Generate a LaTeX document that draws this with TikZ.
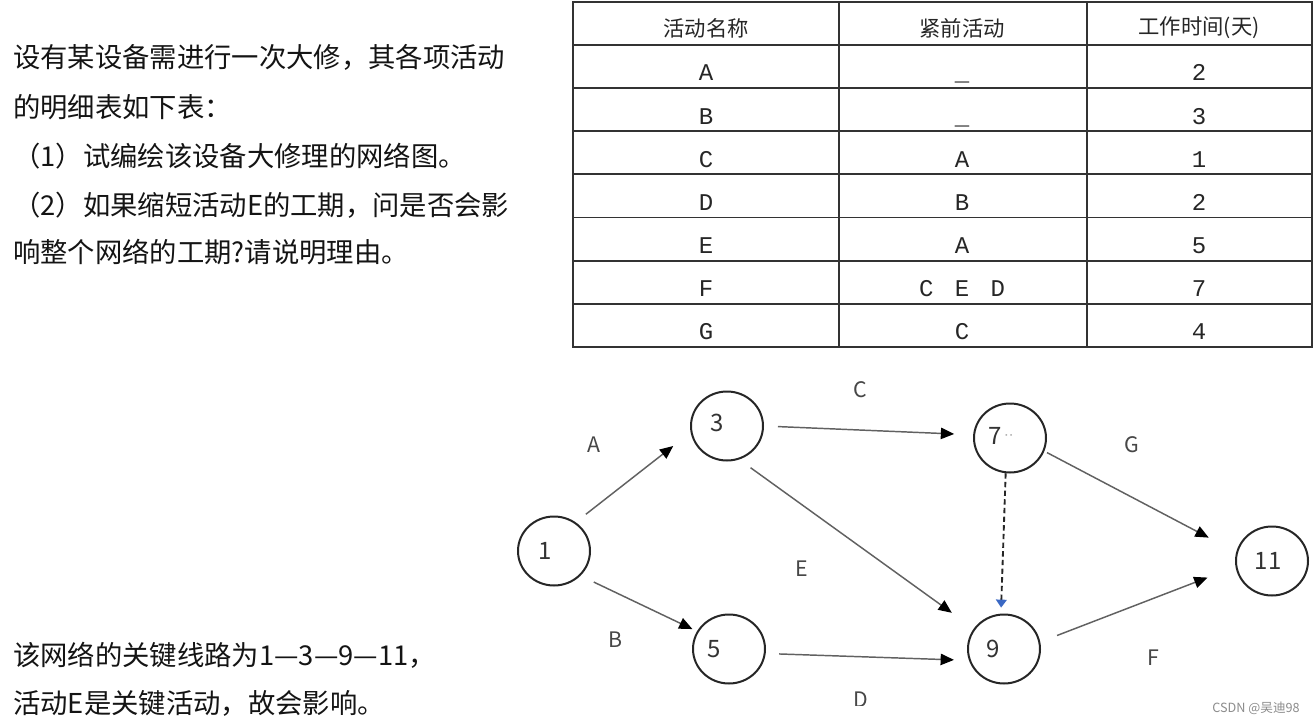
\documentclass[tikz,border=0pt]{standalone}
\usepackage{fontspec}
\setmainfont{Noto Sans CJK SC}
\newfontfamily\tablemono{Liberation Mono}
\newfontfamily\dotfont{DejaVu Sans}
\usetikzlibrary{arrows.meta,shapes.geometric}
\newdimen\pxu \pxu=0.75pt
\tikzset{
  body/.style={anchor=west, inner sep=0pt, text=black!92, font=\fontsize{20.5}{24}\selectfont},
  circnode/.style={ellipse, draw=black!85, line width=1.5pt, minimum width=54pt, minimum height=51.75pt, inner sep=0pt, text=black!80, font=\fontsize{18}{20}\selectfont},
  edge/.style={draw=black!62, line width=1.1pt, -{Triangle[length=10pt,width=8.5pt,color=black]}},
  dashedge/.style={draw=black!85, line width=1.4pt, dash pattern=on 4pt off 2.5pt, -{Triangle[length=6pt,width=8pt,color={rgb,255:red,58;green,104;blue,196}]}},
  elabel/.style={text=black!72, inner sep=0pt, font=\fontsize{16}{18}\selectfont},
  tableline/.style={draw=black!80, line width=1.1pt},
  thead/.style={inner sep=0pt, text=black!85, font=\fontsize{16}{18}\selectfont},
  tcell/.style={anchor=base, inner sep=0pt, text=black!85, font=\tablemono\fontsize{18}{20}\selectfont},
}
\begin{document}
\begin{tikzpicture}[x=0.75pt,y=-0.75pt]
\useasboundingbox[fill=white] (0,0) rectangle (1314,724);

% question text
\node[body] (q1) at (13,57) {设有某设备需进行一次大修，其各项活动};
\node[body] (q2) at (13,107) {的明细表如下表：};
\node[body] (q3) at (13,156) {（1）试编绘该设备大修理的网络图。};
\node[body] (q4) at (13,205) {（2）如果缩短活动E的工期，问是否会影};
\node[body] (q5) at (13,252) {响整个网络的工期?请说明理由。};

% table
\draw[tableline] (573,2) rectangle (1312,347);
\foreach \y in {45,88,131,174,217.5,261,304} \draw[tableline] (573,\y) -- (1312,\y);
\draw[tableline] (839,2) -- (839,347);
\draw[tableline] (1087,2) -- (1087,347);
\node[thead] (h1) at (706,28) {活动名称};
\node[thead] (h2) at (962,28) {紧前活动};
\node[thead] (h3) at (1199,28) {工作时间(天)};
\foreach \a/\b/\c [count=\i] in {A/\_/2, B/\_/3, C/A/1, D/B/2, E/A/5, F/{C\hspace{16pt}E\hspace{16pt}D}/7, G/C/4} {
  \node[tcell] (r\i a) at (706,{81+43.1*(\i-1)}) {\a};
  \node[tcell] (r\i b) at (962,{81+43.1*(\i-1)}) {\b};
  \node[tcell] (r\i c) at (1199,{81+43.1*(\i-1)}) {\c};
}

% network
\node[circnode] (n1) at (554,551) {1\hspace*{18\pxu}};
\node[circnode] (n3) at (727,426) {\raisebox{4.5pt}{3}\hspace*{20\pxu}};
\node[circnode] (n5) at (729,649) {5\hspace*{30\pxu}};
\node[circnode] (n7) at (1010,438) {\raisebox{3.5pt}{7\rlap{\raisebox{3pt}{\dotfont\fontsize{11}{11}\selectfont\color{black!30}\,··}}}\hspace*{30\pxu}};
\node[circnode] (n9) at (1004,649) {9\hspace*{22\pxu}};
\node[circnode] (n11) at (1272,561) {11\hspace*{8\pxu}};

\draw[edge, shorten <=13\pxu, shorten >=22\pxu] (n1.53) -- (n3.190);
\draw[edge, shorten <=14.7\pxu, shorten >=5\pxu] (n1.317.4) -- (n5.151);
\draw[edge, shorten <=14\pxu, shorten >=19\pxu] (n3.0) -- (n7.175);
\draw[edge, shorten <=14\pxu, shorten >=27\pxu] (n3.290.3) -- (n9.146);
\draw[edge, shorten <=13.4\pxu, shorten >=15\pxu] (n5.353) -- (n9.198);
\draw[edge, shorten <=3\pxu, shorten >=31\pxu] (n7.339) -- (n11.166);
\draw[edge, shorten <=18\pxu, shorten >=30\pxu] (n9.11.7) -- (n11.189.6);
\draw[dashedge, shorten >=6\pxu] (n7.263.3) -- (n9.95.6);

\node[elabel] (lA) at (594,445) {A};
\node[elabel] (lB) at (616,640) {B};
\node[elabel] (lC) at (860,390) {C};
\node[elabel] (lE) at (802,569) {E};
\node[elabel] (lG) at (1132,445) {G};
\node[elabel] (lF) at (1153,658) {F};
\begin{scope}
\clip (820,670) rectangle (900,705);
\node[elabel] (lD) at (861,700) {D};
\end{scope}

% answer
\node[body] (a1) at (13,655) {该网络的关键线路为1—3—9—11，};
\node[body] (a2) at (13,703) {活动E是关键活动，故会影响。};

\node[anchor=east, inner sep=0pt, text=black!45, font=\fontsize{9.5}{11}\selectfont] (wm) at (1300,708) {CSDN @吴迪98};
\end{tikzpicture}
\end{document}
